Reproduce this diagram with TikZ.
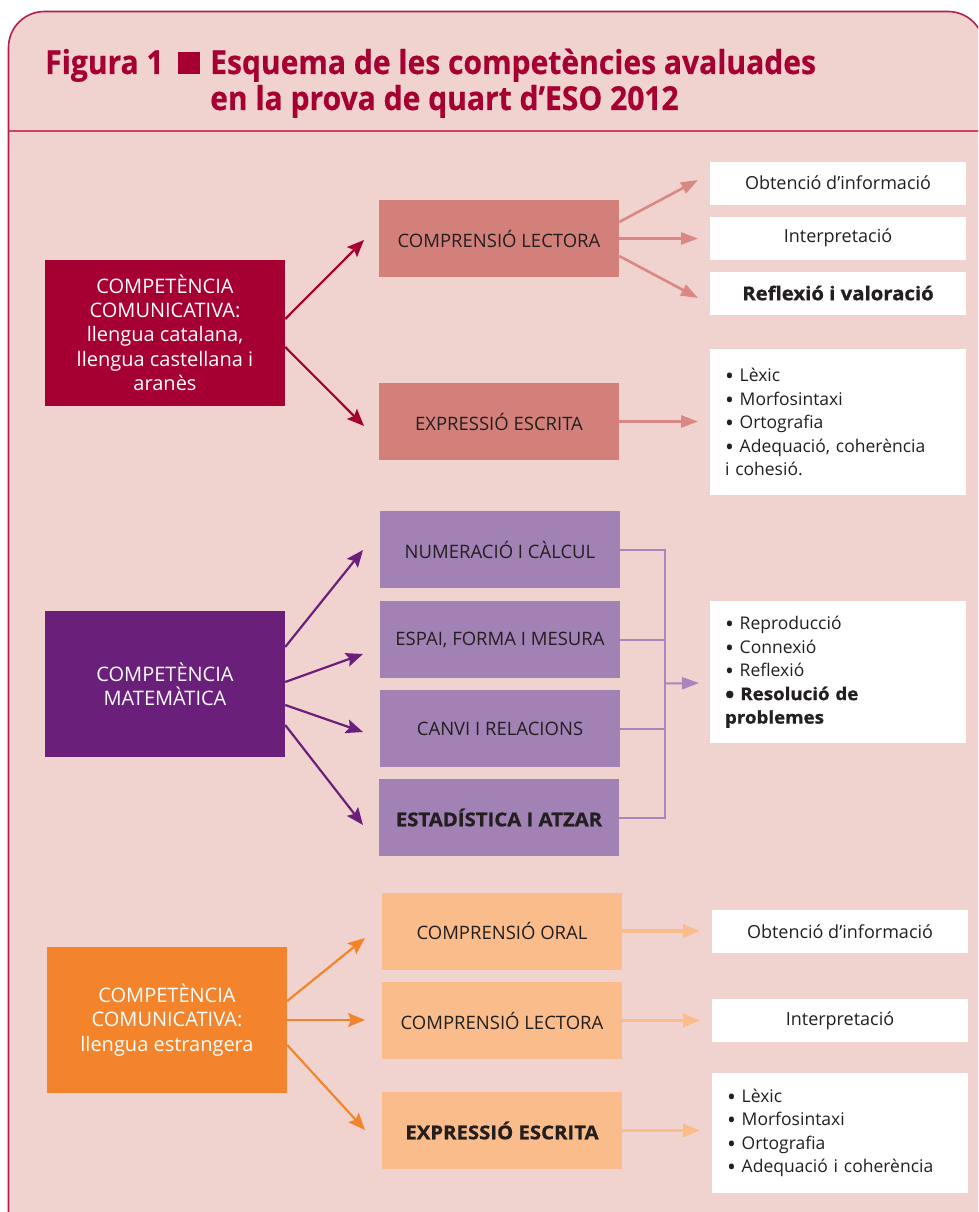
\documentclass[tikz,border=0pt]{standalone}
\usepackage{fontspec}
\usepackage{graphicx}
\setmainfont{Open Sans}
\newfontfamily\titlefont[FakeStretch=0.91,FakeBold=0.4]{Open Sans}
\newfontfamily\heavyfont[FakeStretch=1.07,FakeBold=1.0]{Open Sans}
\newcommand{\bul}{\raisebox{-0.17em}{\scalebox{1.35}{•}}}
\usetikzlibrary{arrows.meta,calc}
\definecolor{bg}{HTML}{F0D3CF}
\definecolor{frame}{HTML}{B41E4A}
\definecolor{sepc}{HTML}{C8456A}
\definecolor{crim}{HTML}{A60032}
\definecolor{rose}{HTML}{D3807B}
\definecolor{rosearr}{HTML}{DA8883}
\definecolor{purp}{HTML}{6A1F7B}
\definecolor{lpurp}{HTML}{A282B4}
\definecolor{brk}{HTML}{A885BB}
\definecolor{orng}{HTML}{F4842B}
\definecolor{lorng}{HTML}{F9BC8A}
\definecolor{txt}{HTML}{231F20}
\tikzset{
  titletext/.style={anchor=base west, inner sep=0pt, text=crim, font=\titlefont\bfseries\fontsize{33}{33}\selectfont},
  box/.style={inner sep=0pt, minimum width=240pt, minimum height=77pt, align=center, text=txt, font=\fontsize{18.5}{24}\selectfont},
  big/.style={inner sep=0pt, minimum width=240pt, minimum height=146pt, align=center, text=white, font=\fontsize{20}{24.3}\selectfont},
  wbox/.style={fill=white, inner sep=0pt, minimum width=256pt, minimum height=43pt, text=txt, font=\fontsize{18}{23}\selectfont},
  blist/.style={fill=white, inner xsep=15pt, inner ysep=0pt, text width=226pt, align=left, text=txt, font=\fontsize{17.5}{23.5}\selectfont},
  marr/.style={line width=2.2pt, -{Stealth[length=17pt,width=14pt,inset=3pt]}},
  sarr/.style={line width=2.6pt, -{Triangle[length=17pt,width=12pt]}},
  larr/.style={line width=3.5pt, -{Triangle[length=17pt,width=13pt]}}
}
\newcommand{\heavy}[1]{{\heavyfont\bfseries #1}}
\begin{document}
\begin{tikzpicture}[x=1pt,y=-1pt]
\useasboundingbox (0,0) rectangle (978,1212);
\clip (0,0) rectangle (978,1212);
\fill[white] (0,0) rectangle (978,1212);
\filldraw[fill=bg, draw=frame, line width=1.6pt, rounded corners=36pt]
  (8.5,1260) -- (8.5,11.5) -- (984,11.5) -- (984,1260);
\draw[sepc, line width=2pt] (8.5,131) -- (984,131);

% title
\node[titletext] (t1) at (45,74) {Figura 1};
\node[fill=crim, minimum size=22pt, inner sep=0pt] (sq) at (189,63) {};
\node[titletext] (t2) at (210,74) {Esquema de les competències avaluades};
\node[titletext] (t3) at (210,110) {en la prova de quart d’ESO 2012};

% ---------- red section
\node[big, fill=crim] (cc1) at (165,332.5) {COMPETÈNCIA\\COMUNICATIVA:\\llengua catalana,\\llengua castellana i\\aranès};
\node[box, fill=rose] (rl1) at (499,238.5) {COMPRENSIÓ LECTORA};
\node[box, fill=rose] (re1) at (499,421.5) {EXPRESSIÓ ESCRITA};
\node[wbox] (w1) at (838,183) {Obtenció d’informació};
\node[wbox] (w2) at (838,238) {Interpretació};
\node[wbox, font=\fontsize{19}{23}\selectfont] (w3) at (838,293) {\heavy{Reflexió i valoració}};
\node[blist, minimum height=146pt] (wb1) at (838,422) {\bul{} Lèxic\\\bul{} Morfosintaxi\\\bul{} Ortografia\\\bul{} Adequació, coherència\\i cohesió.};

\coordinate (a1) at (364,240);
\coordinate (a2) at (364,426);
\coordinate (b1) at (698,180);
\coordinate (b2) at (698,238.5);
\coordinate (b3) at (698,298);
\coordinate (b4) at (698,421.5);
\draw[marr, crim] ([yshift=13.5pt]cc1.east) -- (a1);
\draw[marr, crim] ([yshift=-14.5pt]cc1.east) -- (a2);
\draw[sarr, rosearr] ([yshift=16.5pt]rl1.east) -- (b1);
\draw[sarr, rosearr] (rl1.east) -- (b2);
\draw[sarr, rosearr] ([yshift=-17.5pt]rl1.east) -- (b3);
\draw[sarr, rosearr] (re1.east) -- (b4);

% ---------- math section
\node[big, fill=purp] (cm) at (165,684) {COMPETÈNCIA\\MATEMÀTICA};
\node[box, fill=lpurp] (m1) at (500,549.5) {NUMERACIÓ I CÀLCUL};
\node[box, fill=lpurp] (m2) at (500,639.5) {ESPAI, FORMA I MESURA};
\node[box, fill=lpurp] (m3) at (500,728.5) {CANVI I RELACIONS};
\node[box, fill=lpurp, font=\fontsize{19}{24}\selectfont] (m4) at (499,817.5) {\heavy{ESTADÍSTICA I ATZAR}};
\node[blist, minimum height=142pt] (wm) at (838,672) {\bul{} Reproducció\\\bul{} Connexió\\\bul{} Reflexió\\\heavy{\bul{} Resolució de}\\\heavy{problemes}};

\coordinate (c1) at (363,550);
\coordinate (c2) at (363,654);
\coordinate (c3) at (363,732);
\coordinate (c4) at (363,825);
\draw[marr, purp] ([yshift=37pt]cm.east) -- (c1);
\draw[marr, purp] ([yshift=2pt]cm.east) -- (c2);
\draw[marr, purp] ([yshift=-21pt]cm.east) -- (c3);
\draw[marr, purp] ([yshift=-41pt]cm.east) -- (c4);

\coordinate (bx) at (665,0);
\coordinate (mt) at (699,683);
\draw[brk, line width=2pt] (m1.east) -- (m1.east -| bx) -- (m4.east -| bx) -- (m4.east);
\draw[brk, line width=2pt] (m2.east) -- (m2.east -| bx);
\draw[brk, line width=2pt] (m3.east) -- (m3.east -| bx);
\draw[brk, line width=2pt, -{Triangle[length=17pt,width=12pt]}] ($(m1.east -| bx)!0.5!(m4.east -| bx)$) -- (mt);

% ---------- orange section
\node[big, fill=orng] (cc3) at (167,1020) {COMPETÈNCIA\\COMUNICATIVA:\\llengua estrangera};
\node[box, fill=lorng] (o1) at (502,931) {COMPRENSIÓ ORAL};
\node[box, fill=lorng] (o2) at (502,1020.5) {COMPRENSIÓ LECTORA};
\node[box, fill=lorng, font=\fontsize{19}{24}\selectfont] (o3) at (502,1130.5) {\heavy{EXPRESSIÓ ESCRITA}};
\node[wbox] (ow1) at (840,931.5) {Obtenció d’informació};
\node[wbox] (ow2) at (840,1020.5) {Interpretació};
\node[blist, minimum height=120pt] (ow3) at (840,1133) {\bul{} Lèxic\\\bul{} Morfosintaxi\\\bul{} Ortografia\\\bul{} Adequació i coherència};

\coordinate (d1) at (365,938);
\coordinate (d2) at (365,1020);
\coordinate (d3) at (365,1130);
\coordinate (e1) at (700,931);
\coordinate (e2) at (700,1020.5);
\coordinate (e3) at (700,1130.5);
\draw[marr, orng] ([yshift=19pt]cc3.east) -- (d1);
\draw[marr, orng] (cc3.east) -- (d2);
\draw[marr, orng] ([yshift=-25pt]cc3.east) -- (d3);
\draw[larr, lorng] (o1.east) -- (e1);
\draw[larr, lorng] (o2.east) -- (e2);
\draw[larr, lorng] (o3.east) -- (e3);
\end{tikzpicture}
\end{document}
